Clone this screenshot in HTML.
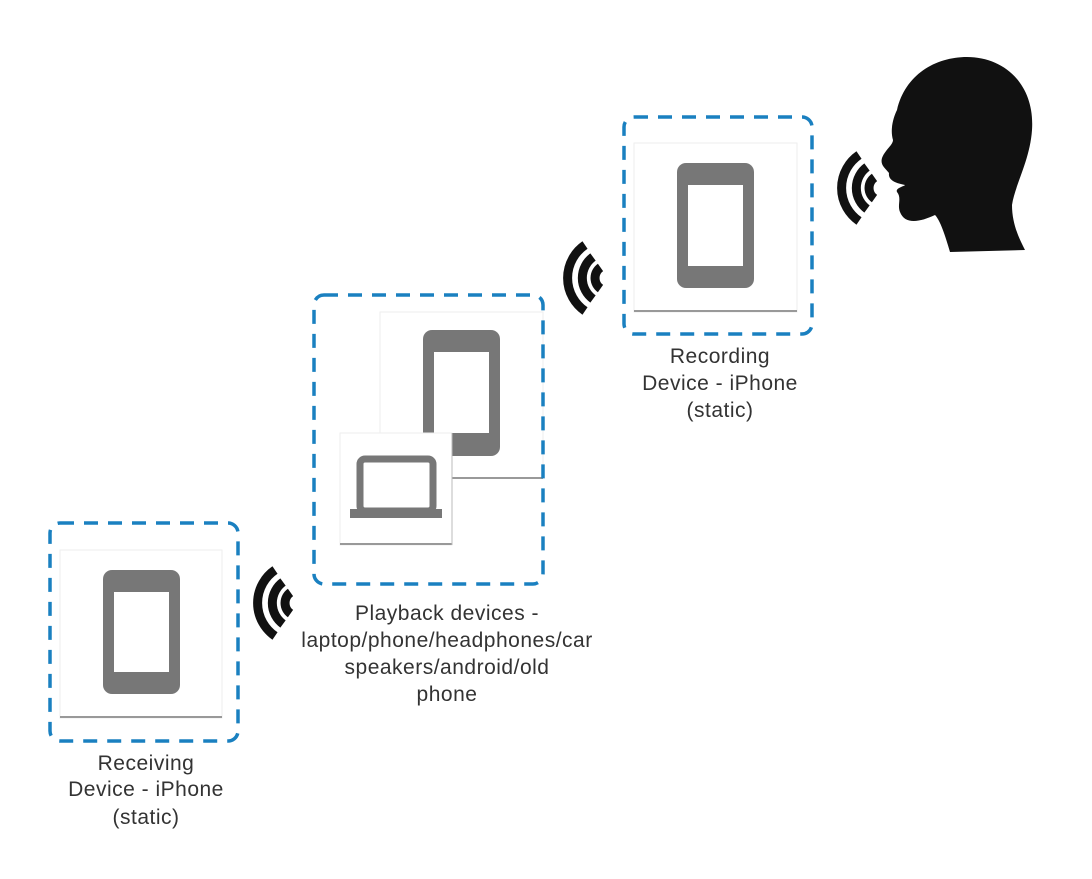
<!DOCTYPE html>
<html><head><meta charset="utf-8"><style>
body{margin:0;background:#fff;}
svg{display:block}
text{font-family:"Liberation Sans",sans-serif;font-size:21px;letter-spacing:0.5px;fill:#333;text-anchor:middle}
</style></head><body>
<svg width="1092" height="879" viewBox="0 0 1092 879" xmlns="http://www.w3.org/2000/svg">
<defs>
<g id="waves" fill="none" stroke="#111" stroke-width="9">
<path d="M27,7 A40,40 0 0 0 27,73"/>
<path d="M35,19 A26,26 0 0 0 35,61"/>
<path d="M42.5,29.4 A13,13 0 0 0 42.5,50.6"/>
</g>
</defs>
<!-- Recording -->
<rect x="634" y="143" width="163" height="169" fill="#fff" stroke="#eee"/>
<line x1="634" y1="311" x2="797" y2="311" stroke="#999" stroke-width="2"/>
<rect x="677" y="163" width="77" height="125" rx="9" fill="#777"/>
<rect x="688" y="185" width="55" height="81" fill="#fff"/>
<rect x="624" y="117" width="188" height="217" rx="10" fill="none" stroke="#1a80c0" stroke-width="3.5" stroke-dasharray="14,10"/>
<use href="#waves" x="832" y="148"/>
<path fill="#111" d="M967,57 C1005,57 1035,85 1032,130 C1030,160 1015,185 1012,205 C1012,225 1020,240 1025,250 L950,252 C945,235 940,220 935,215 C920,222 905,225 900,212 C897,205 902,198 897,192 C895,188 905,186 905,185 C895,183 888,180 889,173 C885,168 880,165 882,158 C885,150 893,145 893,140 C890,130 893,118 897,110 C905,75 935,57 967,57 Z"/>
<text x="720" y="363">Recording</text>
<text x="720" y="390">Device - iPhone</text>
<text x="720" y="417">(static)</text>
<!-- Playback -->
<rect x="380" y="312" width="163" height="166" fill="#fff" stroke="#eee"/>
<line x1="452" y1="478" x2="543" y2="478" stroke="#999" stroke-width="2"/>
<rect x="423" y="330" width="77" height="126" rx="9" fill="#777"/>
<rect x="434" y="352" width="55" height="81" fill="#fff"/>
<rect x="340" y="433" width="112" height="112" fill="#fff" stroke="#eee"/>
<line x1="340" y1="544" x2="452" y2="544" stroke="#999" stroke-width="2"/>
<line x1="452" y1="433" x2="452" y2="545" stroke="#bbb"/>
<rect x="360" y="459" width="73" height="52" rx="5" fill="none" stroke="#777" stroke-width="7"/>
<rect x="350" y="509" width="92" height="9" fill="#777"/>
<rect x="314" y="295" width="229" height="289" rx="10" fill="none" stroke="#1a80c0" stroke-width="3.5" stroke-dasharray="14,10"/>
<use href="#waves" x="558" y="238"/>
<text x="447" y="620">Playback devices -</text>
<text x="447" y="647">laptop/phone/headphones/car</text>
<text x="447" y="674">speakers/android/old</text>
<text x="447" y="701">phone</text>
<!-- Receiving -->
<rect x="60" y="550" width="162" height="168" fill="#fff" stroke="#eee"/>
<line x1="60" y1="717" x2="222" y2="717" stroke="#999" stroke-width="2"/>
<rect x="103" y="570" width="77" height="124" rx="9" fill="#777"/>
<rect x="114" y="592" width="55" height="80" fill="#fff"/>
<rect x="50" y="523" width="188" height="218" rx="10" fill="none" stroke="#1a80c0" stroke-width="3.5" stroke-dasharray="14,10"/>
<use href="#waves" x="248" y="563"/>
<text x="146" y="770">Receiving</text>
<text x="146" y="796">Device - iPhone</text>
<text x="146" y="824">(static)</text>
</svg>
</body></html>
